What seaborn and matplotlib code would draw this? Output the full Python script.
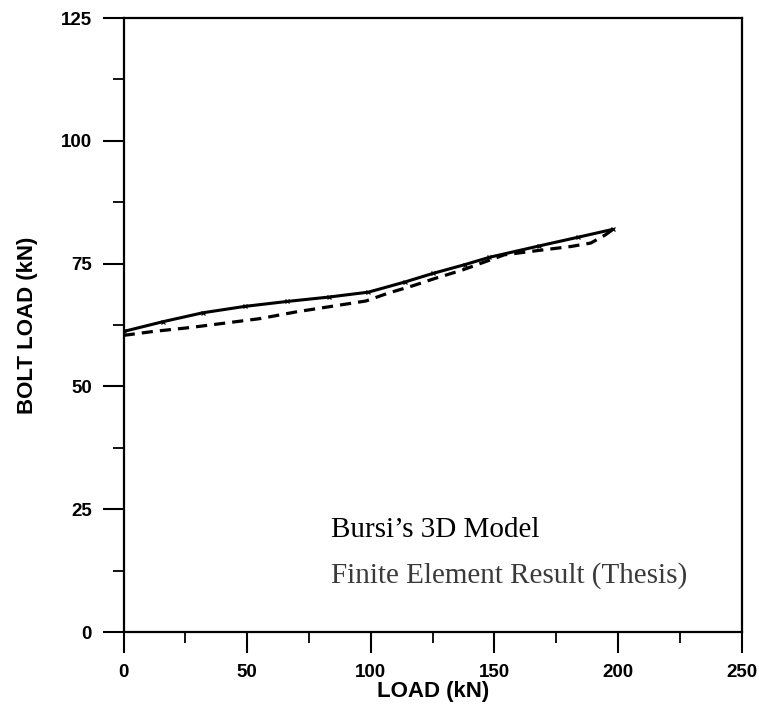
"""
Bolt load vs applied load: Bursi's 3D model against the thesis FE result.
"""

import matplotlib.pyplot as plt
import pandas as pd
import seaborn as sns
from matplotlib.ticker import MultipleLocator

# Bursi's 3D model (solid line)
BURSI_LOAD = [0, 16, 32, 49, 66, 83, 99, 114, 125, 138, 148, 168, 184, 198]
BURSI_BOLT = [61.2, 63.2, 65.0, 66.3, 67.3, 68.2, 69.2, 71.3, 73.0, 74.8, 76.3, 78.6, 80.4, 82.0]

# Finite element result from the thesis (dashed line)
FE_LOAD = [0, 12, 27, 41, 55, 70, 84, 98, 107, 117, 126, 137, 154, 168, 181, 189, 195, 198]
FE_BOLT = [60.4, 61.2, 62.0, 62.9, 63.8, 65.2, 66.3, 67.4, 69.0, 70.5, 72.0, 73.7,
           76.8, 77.7, 78.5, 79.2, 80.9, 82.0]

X_TICKS = [0, 50, 100, 150, 200, 250]
Y_TICKS = [0, 25, 50, 75, 100, 125]


def style_axes(ax):
    ax.set_xlim(0, 250)
    ax.set_ylim(0, 125)
    ax.set_xticks(X_TICKS)
    ax.set_yticks(Y_TICKS)
    ax.xaxis.set_minor_locator(MultipleLocator(25))
    ax.yaxis.set_minor_locator(MultipleLocator(12.5))
    ax.tick_params(which="major", direction="out", length=15, width=1.5, pad=8,
                   labelsize=13.5, colors="black", top=False, right=False)
    ax.tick_params(which="minor", direction="out", length=8, width=1.3,
                   colors="black", top=False, right=False)
    for label in ax.get_xticklabels() + ax.get_yticklabels():
        label.set_fontweight("bold")
    for spine in ax.spines.values():
        spine.set_visible(True)
        spine.set_linewidth(1.6)
        spine.set_color("black")
    ax.set_xlabel("LOAD (kN)", fontsize=16, fontweight="bold", color="black", labelpad=0)
    ax.set_ylabel("BOLT LOAD (kN)", fontsize=16, fontweight="bold", color="black")
    ax.yaxis.set_label_coords(-0.138, 0.5)


def main():
    sns.set_style("ticks")
    plt.rcParams["font.family"] = ["Liberation Sans", "DejaVu Sans"]

    bursi = pd.DataFrame({"load": BURSI_LOAD, "bolt": BURSI_BOLT})
    fe = pd.DataFrame({"load": FE_LOAD, "bolt": FE_BOLT})

    fig = plt.figure(figsize=(7.59, 7.13), dpi=100)
    ax = fig.add_axes([0.163, 0.1136, 0.814, 0.861])

    sns.lineplot(data=bursi, x="load", y="bolt", ax=ax, color="black",
                 linewidth=2.2, marker="x", markersize=3.5, markeredgewidth=0.9,
                 markeredgecolor="black", sort=False)
    sns.lineplot(data=fe, x="load", y="bolt", ax=ax, color="black",
                 linewidth=2.3, linestyle=(0, (3.5, 2.2)), sort=False)

    style_axes(ax)

    ax.text(84, 20.8, "Bursi\u2019s 3D Model", family="Liberation Serif",
            fontsize=21, color="black", va="center", ha="left")
    ax.text(84, 11.6, "Finite Element Result (Thesis)", family="Liberation Serif",
            fontsize=21, color="#3a3a3a", va="center", ha="left")

    fig.savefig("out.png", dpi=100)
    plt.close(fig)


if __name__ == "__main__":
    main()
